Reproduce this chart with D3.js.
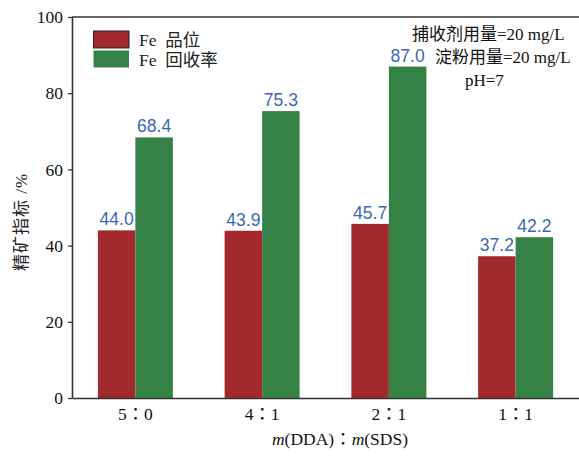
<!DOCTYPE html>
<html>
<head>
<meta charset="utf-8">
<script src="https://cdn.jsdelivr.net/npm/d3@7"></script>
<style>
  html, body { margin: 0; padding: 0; background: #fff; }
  svg { display: block; }
  .serif { font-family: "Liberation Serif", "Noto Sans CJK SC", serif; }
  .serif-tc { font-family: "Liberation Serif", "Noto Sans CJK TC", serif; }
</style>
</head>
<body>
<svg id="chart" width="579" height="458"></svg>
<script>
// Ratio of DDA to SDS and the concentrate indices at each ratio
const ratios = ["5：0", "4：1", "2：1", "1：1"];
const seriesNames = ["Fe 品位", "Fe 回收率"];
const feGrade = [44.0, 43.9, 45.7, 37.2];
const feRecovery = [68.4, 75.3, 87.0, 42.2];
const yTicks = [0, 20, 40, 60, 80, 100];
const conditions = ["捕收剂用量=20 mg/L", "淀粉用量=20 mg/L", "pH=7"];

const colors = ["#a22a2f", "#358246"];
const labelBlue = "#3a66b6";
const axisColor = "#333";

const svg = d3.select("#chart");
const plotLeft = 72, plotRight = 579, plotTop = 17, plotBottom = 398;

const x0 = d3.scaleBand().domain(ratios).range([plotLeft, plotRight]).padding(0);
const x1 = d3.scaleBand().domain(seriesNames).range([-37.5, 37.5]).padding(0);
const y = d3.scaleLinear().domain([0, 100]).range([plotBottom, plotTop]);

const rows = ratios.map((r, i) => ({ ratio: r, values: [feGrade[i], feRecovery[i]] }));

// bars
const groups = svg.append("g").selectAll("g").data(rows).join("g")
  .attr("transform", d => `translate(${x0(d.ratio) + x0.bandwidth() / 2},0)`);

groups.selectAll("rect").data(d => d.values.map((v, k) => ({ k, v }))).join("rect")
  .attr("x", d => x1(seriesNames[d.k]))
  .attr("y", d => y(d.v))
  .attr("width", x1.bandwidth())
  .attr("height", d => y(0) - y(d.v))
  .attr("fill", d => colors[d.k]);

groups.selectAll("text").data(d => d.values.map((v, k) => ({ k, v }))).join("text")
  .attr("x", d => x1(seriesNames[d.k]) + x1.bandwidth() / 2)
  .attr("y", d => y(d.v) - 5)
  .attr("text-anchor", "middle")
  .attr("font-family", "Liberation Sans, sans-serif")
  .attr("font-size", 17.5)
  .attr("fill", labelBlue)
  .text(d => d.v.toFixed(1));

// y axis
const yAxis = svg.append("g")
  .attr("transform", `translate(${plotLeft},0)`)
  .call(d3.axisLeft(y).tickValues(yTicks).tickSize(4).tickSizeOuter(0).tickPadding(5));
yAxis.selectAll("text").attr("class", "serif").attr("font-size", 17.5).attr("fill", "#111");
yAxis.selectAll("line").attr("stroke", axisColor).attr("stroke-width", 1.3);
yAxis.select(".domain").attr("stroke", axisColor).attr("stroke-width", 1.6);

// x axis
const xAxis = svg.append("g")
  .attr("transform", `translate(0,${plotBottom})`)
  .call(d3.axisBottom(x0).tickSize(0).tickSizeOuter(0).tickPadding(10));
xAxis.selectAll("text").attr("class", "serif-tc").attr("font-size", 17.5).attr("fill", "#111");
xAxis.select(".domain").attr("stroke", axisColor).attr("stroke-width", 1.6);

// top frame line
svg.append("line")
  .attr("x1", plotLeft).attr("x2", plotRight).attr("y1", plotTop).attr("y2", plotTop)
  .attr("stroke", axisColor).attr("stroke-width", 1.6);

// axis titles
const xt = svg.append("text").attr("class", "serif-tc")
  .attr("x", 340).attr("y", 445).attr("text-anchor", "middle")
  .attr("font-size", 17.5).attr("fill", "#111");
xt.append("tspan").attr("font-style", "italic").text("m");
xt.append("tspan").text("(DDA)：");
xt.append("tspan").attr("font-style", "italic").text("m");
xt.append("tspan").text("(SDS)");

svg.append("text").attr("class", "serif")
  .attr("transform", "translate(27,222) rotate(-90)")
  .attr("text-anchor", "middle")
  .attr("font-size", 17).attr("fill", "#222")
  .attr("letter-spacing", 1)
  .text("精矿指标 /%");

// legend
const legend = svg.append("g");
seriesNames.forEach((name, i) => {
  const yy = 31 + i * 19.5;
  legend.append("rect")
    .attr("x", 93.5).attr("y", yy).attr("width", 35.5).attr("height", 17)
    .attr("fill", colors[i])
    .attr("stroke", i === 0 ? "#222" : "none").attr("stroke-width", 1);
  legend.append("text").attr("class", "serif")
    .attr("x", 139).attr("y", yy + 15)
    .attr("font-size", 17.5).attr("fill", "#222")
    .attr("xml:space", "preserve")
    .text(name.replace(" ", "  "));
});

// test conditions
const condX = [412, 435, 465];
const condY = [40, 63, 86];
conditions.forEach((t, i) => {
  svg.append("text").attr("class", "serif")
    .attr("x", condX[i]).attr("y", condY[i])
    .attr("font-size", 17).attr("fill", "#111")
    .text(t);
});
</script>
</body>
</html>
